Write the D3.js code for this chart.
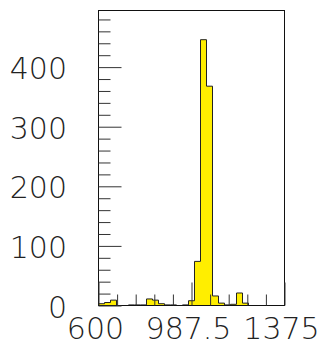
<!DOCTYPE html>
<html>
<head>
<meta charset="utf-8">
<script src="https://cdn.jsdelivr.net/npm/d3@7"></script>
<style>
  body { margin: 0; background: #fff; }
  text { font-family: 'DejaVu Sans', sans-serif; font-weight: 200; fill: #222; }
</style>
</head>
<body>
<div id="chart"></div>
<script>
// histogram: 31 bins from 600 to 1375
const xMin = 600;
const xMax = 1375;
const counts = [3, 5, 9, 0, 0, 1, 1, 1, 11, 9, 3, 1, 1, 0, 1, 8, 74, 446, 368, 16, 4, 1, 2, 21, 4, 0, 0, 0, 0, 0, 0];
const yMax = 495;
const xTickLabels = [600, 987.5, 1375];
const yTickLabels = [0, 100, 200, 300, 400];

const width = 326;
const height = 348;

const svg = d3.select('#chart').append('svg')
  .attr('width', width).attr('height', height);

const x = d3.scaleLinear().domain([xMin, xMax]).range([98.5, 284.5]);
const y = d3.scaleLinear().domain([0, yMax]).range([305.5, 10.5]);

const binWidth = (xMax - xMin) / counts.length;

// step outline, closed along the axis
const pts = [[xMin, 0]];
counts.forEach((c, i) => {
  pts.push([xMin + i * binWidth, c]);
  pts.push([xMin + (i + 1) * binWidth, c]);
});
pts.push([xMax, 0]);

const line = d3.line().x(d => x(d[0])).y(d => y(d[1]));

svg.append('path').datum(pts)
  .attr('d', line)
  .attr('fill', '#ffee00')
  .attr('stroke', '#222')
  .attr('stroke-width', 1);

// frame
svg.append('rect')
  .attr('x', x.range()[0]).attr('y', y.range()[1])
  .attr('width', x.range()[1] - x.range()[0])
  .attr('height', y.range()[0] - y.range()[1])
  .attr('fill', 'none').attr('stroke', '#111').attr('stroke-width', 1);

// y ticks: major every 100, minor every 20, drawn inward
const yAxis = d3.axisRight(y)
  .tickValues(d3.range(0, yMax, 20))
  .tickSize(0)
  .tickFormat('');
svg.append('g').attr('transform', `translate(${x.range()[0]},0)`).call(yAxis)
  .call(g => g.select('.domain').remove())
  .selectAll('.tick line')
  .attr('x2', d => d % 100 === 0 ? 23 : 12)
  .attr('stroke', '#333');

svg.append('g').selectAll('text').data(yTickLabels).join('text')
  .attr('x', 67).attr('y', d => y(d) + 12)
  .attr('text-anchor', 'end')
  .attr('font-size', 30)
  .text(d => d);

// x ticks: every 77.5, long at the labels
const xStep = (xMax - xMin) / 10;
const xAxis = d3.axisTop(x)
  .tickValues(d3.range(0, 11).map(i => xMin + i * xStep))
  .tickSize(0)
  .tickFormat('');
svg.append('g').attr('transform', `translate(0,${y.range()[0]})`).call(xAxis)
  .call(g => g.select('.domain').remove())
  .selectAll('.tick line')
  .attr('y2', (d, i) => i % 5 === 0 ? -23 : -11)
  .attr('stroke', '#333');

svg.append('g').selectAll('text').data(xTickLabels).join('text')
  .attr('x', d => x(d) - 3).attr('y', 339)
  .attr('text-anchor', 'middle')
  .attr('font-size', 30)
  .text(d => d);
</script>
</body>
</html>
